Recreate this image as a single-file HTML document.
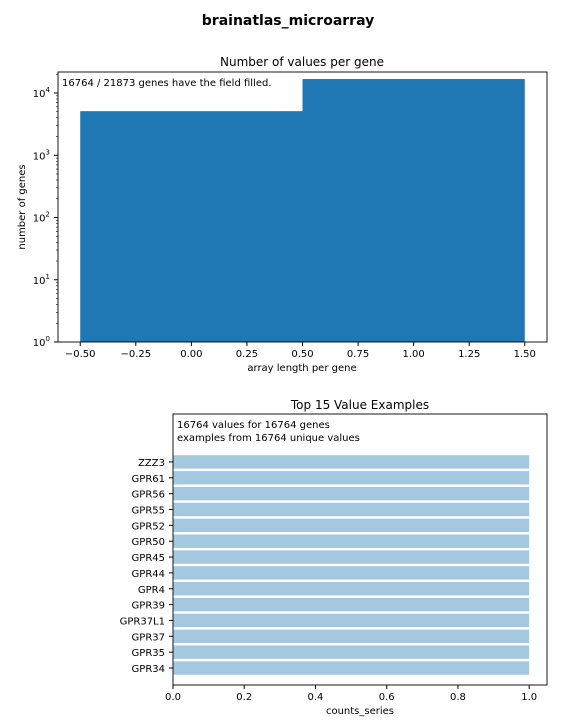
<!DOCTYPE html>
<html><head><meta charset="utf-8"><style>
body{margin:0;background:#fff;}
svg text{font-family:"DejaVu Sans","Liberation Sans",sans-serif;fill:#000;}
</style></head><body>
<svg id="s" width="576" height="720" viewBox="0 0 576 720" xmlns="http://www.w3.org/2000/svg">
<rect width="576" height="720" fill="#fff"/>
<text x="288" y="25" text-anchor="middle" font-size="14" font-weight="bold">brainatlas_microarray</text>
<g id="top"></g>
<g id="bot"></g>
</svg>
<script>
const histCats=[0,1];
const histVals=[5109,16764];
const xTicks=[-0.5,-0.25,0,0.25,0.5,0.75,1.0,1.25,1.5];
const xTickLabels=["\u22120.50","\u22120.25","0.00","0.25","0.50","0.75","1.00","1.25","1.50"];
const yDecades=[0,1,2,3,4];
const barCats=["GPR34","GPR35","GPR37","GPR37L1","GPR39","GPR4","GPR44","GPR45","GPR50","GPR52","GPR55","GPR56","GPR61","ZZZ3"];
const barVals=[1,1,1,1,1,1,1,1,1,1,1,1,1,1];
const bxTicks=[0,0.2,0.4,0.6,0.8,1.0];
const bxTickLabels=["0.0","0.2","0.4","0.6","0.8","1.0"];
const NS="http://www.w3.org/2000/svg";
function mk(p,t,a,txt){const e=document.createElementNS(NS,t);for(const k in a)e.setAttribute(k,a[k]);if(txt!==undefined)e.textContent=txt;p.appendChild(e);return e;}
// top chart
const T=document.getElementById('top');
const L=58,R=547,Tp=72,B=342;
const xs=v=>L+(v+0.6)/2.2*(R-L);
const ys=v=>B-Math.log10(v)*62.25;
mk(T,'text',{x:302,y:66,'text-anchor':'middle','font-size':12},'Number of values per gene');
histCats.forEach((c,i)=>{const y=ys(histVals[i]);const r=mk(T,'rect',{x:xs(c-0.5),y:y,width:xs(c+0.5)-xs(c-0.5),height:B-y,fill:'#1f77b4'});

});
mk(T,'rect',{x:L,y:Tp,width:R-L,height:B-Tp,fill:'none',stroke:'#000','stroke-width':0.9});
xTicks.forEach((v,i)=>{const x=xs(v);mk(T,'line',{x1:x,x2:x,y1:B,y2:B+4,stroke:'#000'});
const t=mk(T,'text',{x:x,y:B+15,'text-anchor':'middle','font-size':10},xTickLabels[i]);});
yDecades.forEach(d=>{const y=ys(Math.pow(10,d));mk(T,'line',{x1:L-4,x2:L,y1:y,y2:y,stroke:'#000'});
const t=mk(T,'text',{x:L-8,y:y+4,'text-anchor':'end','font-size':10});
t.appendChild(document.createTextNode('10'));const s=mk(t,'tspan',{dy:-5,'font-size':7},String(d));
for(let k=2;k<10;k++){const yy=ys(k*Math.pow(10,d));if(yy>Tp)mk(T,'line',{x1:L-2,x2:L,y1:yy,y2:yy,stroke:'#000','stroke-width':0.6});}});
mk(T,'text',{x:302,y:371,'text-anchor':'middle','font-size':10},'array length per gene');
mk(T,'text',{x:25,y:207,'text-anchor':'middle','font-size':10,transform:'rotate(-90 25 207)'},'number of genes');
mk(T,'text',{x:62,y:86,'font-size':10},'16764 / 21873 genes have the field filled.');
// bottom chart
const G=document.getElementById('bot');
const L2=173,R2=547,T2=414,B2=685;
const bx=v=>L2+v/1.05*(R2-L2);
const by=i=>668-i*15.85;
mk(G,'text',{x:360,y:409,'text-anchor':'middle','font-size':12},'Top 15 Value Examples');
barCats.forEach((c,i)=>{const y=by(i);const r=mk(G,'rect',{x:bx(0),y:y-6.7,width:bx(barVals[i])-bx(0),height:13.4,fill:'#a5c8e1'});


mk(G,'line',{x1:L2-4,x2:L2,y1:y,y2:y,stroke:'#000'});
const t=mk(G,'text',{x:L2-8,y:y+4,'text-anchor':'end','font-size':10},c);});
mk(G,'rect',{x:L2,y:T2,width:R2-L2,height:B2-T2,fill:'none',stroke:'#000','stroke-width':0.9});
bxTicks.forEach((v,i)=>{const x=bx(v);mk(G,'line',{x1:x,x2:x,y1:B2,y2:B2+4,stroke:'#000'});
const t=mk(G,'text',{x:x,y:B2+15,'text-anchor':'middle','font-size':10},bxTickLabels[i]);});
mk(G,'text',{x:360,y:714,'text-anchor':'middle','font-size':10},'counts_series');
mk(G,'text',{x:177,y:428,'font-size':10},'16764 values for 16764 genes');
mk(G,'text',{x:177,y:441,'font-size':10},'examples from 16764 unique values');
</script>
</body></html>
